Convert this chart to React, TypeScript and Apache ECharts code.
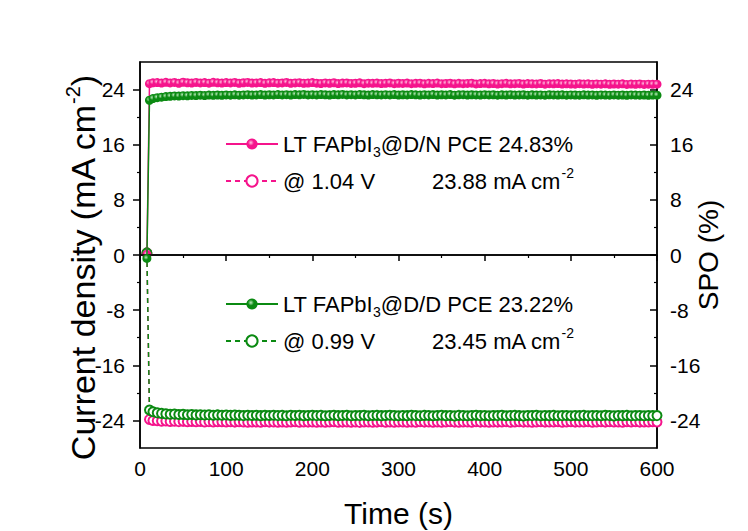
import React, { useEffect, useRef } from "react";
import * as echarts from "echarts";

// sampling times (s)
const times = [
  8, 11, 15, 20, 25, 30, 35, 40, 45, 50, 55, 60, 65, 70, 75, 80, 85, 90, 95, 100,
  105, 110, 115, 120, 125, 130, 135, 140, 145, 150, 155, 160, 165, 170, 175, 180, 185, 190, 195, 200,
  205, 210, 215, 220, 225, 230, 235, 240, 245, 250, 255, 260, 265, 270, 275, 280, 285, 290, 295, 300,
  305, 310, 315, 320, 325, 330, 335, 340, 345, 350, 355, 360, 365, 370, 375, 380, 385, 390, 395, 400,
  405, 410, 415, 420, 425, 430, 435, 440, 445, 450, 455, 460, 465, 470, 475, 480, 485, 490, 495, 500,
  505, 510, 515, 520, 525, 530, 535, 540, 545, 550, 555, 560, 565, 570, 575, 580, 585, 590, 595, 600,
];

// SPO (%) of LT FAPbI3@D/N
const pinkPCE = [
  0.1, 24.85, 24.98, 25.02, 24.95, 25.05, 24.97, 25.03, 24.92, 25.06, 24.99, 24.94, 25.04, 24.96, 25.01, 24.93, 25.05, 24.98, 24.95, 25.02,
  24.96, 25.03, 24.92, 24.99, 25.04, 24.94, 24.97, 25.02, 24.91, 24.98, 25.01, 24.93, 24.96, 25.03, 24.9, 24.97, 25.0, 24.92, 24.95, 25.01,
  24.93, 24.88, 24.97, 24.91, 24.99, 24.87, 24.94, 24.96, 24.89, 24.92, 24.98, 24.86, 24.93, 24.9, 24.95, 24.88, 24.91, 24.96, 24.85, 24.92,
  24.89, 24.94, 24.86, 24.9, 24.93, 24.84, 24.91, 24.87, 24.95, 24.85, 24.88, 24.92, 24.83, 24.9, 24.86, 24.89, 24.93, 24.82, 24.87, 24.9,
  24.84, 24.88, 24.81, 24.86, 24.91, 24.83, 24.85, 24.89, 24.8, 24.87, 24.84, 24.82, 24.88, 24.79, 24.85, 24.83, 24.87, 24.8, 24.84, 24.81,
  24.78, 24.85, 24.8, 24.83, 24.77, 24.82, 24.79, 24.84, 24.76, 24.81, 24.78, 24.83, 24.75, 24.8, 24.77, 24.82, 24.74, 24.79, 24.76, 24.78,
];

// SPO (%) of LT FAPbI3@D/D
const greenPCE = [
  -0.5, 22.45, 22.7, 22.82, 22.9, 22.98, 23.02, 23.08, 23.05, 23.12, 23.1, 23.15, 23.13, 23.18, 23.14, 23.2, 23.16, 23.21, 23.17, 23.22,
  23.18, 23.24, 23.19, 23.22, 23.26, 23.2, 23.23, 23.27, 23.21, 23.25, 23.22, 23.28, 23.23, 23.26, 23.21, 23.27, 23.24, 23.29, 23.22, 23.26,
  23.23, 23.28, 23.25, 23.21, 23.27, 23.24, 23.29, 23.22, 23.26, 23.23, 23.28, 23.25, 23.2, 23.27, 23.24, 23.22, 23.26, 23.23, 23.28, 23.21,
  23.25, 23.22, 23.27, 23.24, 23.2, 23.26, 23.23, 23.28, 23.21, 23.25, 23.22, 23.27, 23.19, 23.24, 23.26, 23.21, 23.25, 23.23, 23.2, 23.26,
  23.22, 23.25, 23.19, 23.24, 23.21, 23.26, 23.2, 23.23, 23.25, 23.18, 23.24, 23.21, 23.23, 23.19, 23.25, 23.22, 23.2, 23.24, 23.18, 23.23,
  23.21, 23.19, 23.24, 23.2, 23.22, 23.17, 23.23, 23.2, 23.18, 23.22, 23.19, 23.21, 23.16, 23.22, 23.2, 23.18, 23.21, 23.17, 23.2, 23.19,
];

// current density (mA cm-2) of LT FAPbI3@D/N at 1.04 V
const pinkJ = [
  0.3, -23.85, -24.0, -24.05, -24.1, -24.08, -24.14, -24.12, -24.17, -24.13, -24.19, -24.15, -24.2, -24.16, -24.21, -24.17, -24.22, -24.18, -24.2, -24.23,
  -24.19, -24.24, -24.2, -24.22, -24.25, -24.21, -24.23, -24.26, -24.2, -24.24, -24.22, -24.27, -24.21, -24.25, -24.23, -24.2, -24.26, -24.22, -24.24, -24.21,
  -24.25, -24.22, -24.27, -24.23, -24.2, -24.26, -24.24, -24.21, -24.25, -24.22, -24.28, -24.23, -24.21, -24.26, -24.24, -24.2, -24.25, -24.22, -24.27, -24.23,
  -24.21, -24.25, -24.22, -24.26, -24.2, -24.24, -24.23, -24.27, -24.21, -24.25, -24.22, -24.19, -24.24, -24.26, -24.21, -24.23, -24.25, -24.2, -24.24, -24.22,
  -24.26, -24.21, -24.24, -24.22, -24.19, -24.25, -24.23, -24.2, -24.24, -24.21, -24.26, -24.22, -24.2, -24.24, -24.21, -24.23, -24.19, -24.25, -24.22, -24.2,
  -24.24, -24.21, -24.23, -24.19, -24.25, -24.22, -24.2, -24.24, -24.18, -24.23, -24.21, -24.25, -24.2, -24.22, -24.19, -24.24, -24.21, -24.23, -24.2, -24.22,
];

// current density (mA cm-2) of LT FAPbI3@D/D at 0.99 V
const greenJ = [
  0.3, -22.5, -22.75, -22.9, -22.98, -23.05, -23.1, -23.08, -23.14, -23.12, -23.18, -23.15, -23.2, -23.17, -23.22, -23.19, -23.24, -23.2, -23.25, -23.22,
  -23.27, -23.23, -23.26, -23.3, -23.24, -23.28, -23.25, -23.31, -23.26, -23.29, -23.24, -23.3, -23.27, -23.32, -23.26, -23.29, -23.25, -23.31, -23.28, -23.26,
  -23.3, -23.27, -23.32, -23.28, -23.25, -23.31, -23.29, -23.26, -23.33, -23.28, -23.3, -23.26, -23.32, -23.29, -23.27, -23.31, -23.28, -23.25, -23.3, -23.33,
  -23.28, -23.31, -23.26, -23.3, -23.33, -23.27, -23.29, -23.32, -23.28, -23.25, -23.31, -23.29, -23.34, -23.27, -23.3, -23.32, -23.28, -23.26, -23.31, -23.29,
  -23.33, -23.28, -23.3, -23.26, -23.32, -23.29, -23.27, -23.31, -23.34, -23.28, -23.3, -23.26, -23.32, -23.29, -23.31, -23.27, -23.33, -23.3, -23.28, -23.32,
  -23.29, -23.31, -23.27, -23.33, -23.3, -23.28, -23.32, -23.26, -23.3, -23.34, -23.29, -23.31, -23.27, -23.32, -23.3, -23.28, -23.33, -23.29, -23.31, -23.3,
];

const majorY = [-24, -16, -8, 0, 8, 16, 24];
const minorY = [-20, -12, -4, 4, 12, 20];

const legendLabels: Record<string, string> = {
  pinkPCE: "{n|LT FAPbI}{sub|3}{n|@D/N PCE 24.83%}",
  pinkJ: "{w|@ 1.04 V}{n|23.88 mA cm}{sup|-2}",
  greenPCE: "{n|LT FAPbI}{sub|3}{n|@D/D PCE 23.22%}",
  greenJ: "{w|@ 0.99 V}{n|23.45 mA cm}{sup|-2}",
};

const PINK = "#F5148C";
const GREEN = "#0B8A12";
const FONT = "Liberation Sans, Arial, sans-serif";

function pairs(vals: number[]) {
  return times.map((t, i) => [t, vals[i]]);
}

function ballColor(base: string, light: string) {
  return {
    type: "radial",
    x: 0.4,
    y: 0.38,
    r: 0.6,
    colorStops: [
      { offset: 0, color: light },
      { offset: 0.45, color: base },
      { offset: 1, color: base },
    ],
  };
}

export default function App() {
  const ref = useRef<HTMLDivElement>(null);
  useEffect(() => {
    if (!ref.current) return;
    const chart = echarts.init(ref.current, null, { renderer: "svg" });
    const legendRich = {
      n: { fontSize: 22, lineHeight: 30, color: "#000", fontFamily: FONT, verticalAlign: "middle" },
      w: { fontSize: 22, lineHeight: 30, color: "#000", fontFamily: FONT, width: 149, verticalAlign: "middle" },
      sub: { fontSize: 14, lineHeight: 30, color: "#000", fontFamily: FONT, verticalAlign: "bottom" },
      sup: { fontSize: 14, lineHeight: 30, color: "#000", fontFamily: FONT, verticalAlign: "top" },
    };
    const nameRich = {
      n: { fontSize: 34, lineHeight: 40, color: "#000", fontFamily: FONT, verticalAlign: "middle" },
      sup: { fontSize: 20, lineHeight: 40, color: "#000", fontFamily: FONT, verticalAlign: "top" },
    };
    const axisLineStyle = { color: "#000", width: 1.5 };
    const labelStyle = { color: "#000", fontSize: 21, fontFamily: FONT };
    const yBase = {
      type: "value",
      min: -28,
      max: 28,
      splitLine: { show: false },
      nameMoveOverlap: false,
    };
    const option: any = {
      animation: false,
      backgroundColor: "#fff",
      grid: {
        left: 140,
        right: 91,
        top: 62,
        bottom: 83,
        show: true,
        borderColor: "#000",
        borderWidth: 1.5,
        backgroundColor: "transparent",
        containLabel: false,
        outerBoundsMode: "none",
      },
      legend: [
        {
          data: ["pinkPCE", "pinkJ"],
          orient: "vertical",
          left: 225,
          top: 133,
          itemWidth: 52,
          itemHeight: 14,
          itemGap: 7,
          padding: 0,
          formatter: (name: string) => legendLabels[name],
          textStyle: { rich: legendRich },
          selectedMode: false,
        },
        {
          data: ["greenPCE", "greenJ"],
          orient: "vertical",
          left: 225,
          top: 293,
          itemWidth: 52,
          itemHeight: 14,
          itemGap: 7,
          padding: 0,
          formatter: (name: string) => legendLabels[name],
          textStyle: { rich: legendRich },
          selectedMode: false,
        },
      ],
      xAxis: {
        type: "value",
        min: 0,
        max: 600,
        interval: 100,
        name: "Time (s)",
        nameLocation: "middle",
        nameGap: 48,
        nameMoveOverlap: false,
        nameTextStyle: { fontSize: 30, lineHeight: 34, color: "#000", fontFamily: FONT },
        axisLine: { lineStyle: axisLineStyle },
        axisTick: { length: 6, lineStyle: axisLineStyle },
        minorTick: { show: true, splitNumber: 2, length: 3, lineStyle: { color: "#000", width: 1.2 } },
        axisLabel: { ...labelStyle, margin: 10 },
        splitLine: { show: false },
      },
      yAxis: [
        {
          ...yBase,
          position: "left",
          name: "{n|Current density (mA cm}{sup|-2}{n|)}",
          nameLocation: "middle",
          nameRotate: 90,
          nameGap: 37,
          nameTextStyle: { rich: nameRich, padding: [0, 26, 0, 0] },
          axisLine: { show: true, lineStyle: axisLineStyle },
          axisTick: { show: true, length: 7, customValues: majorY, lineStyle: axisLineStyle },
          axisLabel: { ...labelStyle, margin: 15, customValues: majorY },
        },
        {
          ...yBase,
          position: "right",
          name: "SPO (%)",
          nameLocation: "middle",
          nameRotate: 90,
          nameGap: 34,
          nameTextStyle: { fontSize: 28, lineHeight: 34, color: "#000", fontFamily: FONT },
          axisLine: { show: true, lineStyle: axisLineStyle },
          axisTick: { show: true, inside: true, length: 7, customValues: majorY, lineStyle: axisLineStyle },
          axisLabel: { ...labelStyle, margin: 13, customValues: majorY },
        },
        {
          ...yBase,
          position: "left",
          axisLine: { show: false },
          axisTick: { show: true, length: 3, customValues: minorY, lineStyle: { color: "#000", width: 1.2 } },
          axisLabel: { show: false },
        },
        {
          ...yBase,
          position: "right",
          axisLine: { show: false },
          axisTick: { show: true, inside: true, length: 3, customValues: minorY, lineStyle: { color: "#000", width: 1.2 } },
          axisLabel: { show: false },
        },
      ],
      series: [
        {
          name: "pinkJ",
          type: "line",
          yAxisIndex: 0,
          data: pairs(pinkJ),
          symbol: "emptyCircle",
          symbolSize: 9,
          showAllSymbol: true,
          itemStyle: { color: PINK, borderColor: PINK, borderWidth: 1.2 },
          lineStyle: { color: PINK, width: 1.5, type: [5, 4] },
          markLine: {
            silent: true,
            symbol: "none",
            label: { show: false },
            lineStyle: { color: "#000", width: 1.5, type: "solid" },
            data: [{ yAxis: 0 }],
          },
          z: 2,
        },
        {
          name: "greenJ",
          type: "line",
          yAxisIndex: 0,
          data: pairs(greenJ),
          symbol: "emptyCircle",
          symbolSize: 9,
          showAllSymbol: true,
          itemStyle: { color: GREEN, borderColor: GREEN, borderWidth: 1.2 },
          lineStyle: { color: GREEN, width: 1.5, type: [5, 4] },
          z: 3,
        },
        {
          name: "pinkPCE",
          type: "line",
          yAxisIndex: 1,
          data: pairs(pinkPCE),
          symbol: "circle",
          symbolSize: 9,
          showAllSymbol: true,
          itemStyle: { color: ballColor(PINK, "#FFC2E0") },
          lineStyle: { color: PINK, width: 1.5 },
          z: 4,
        },
        {
          name: "greenPCE",
          type: "line",
          yAxisIndex: 1,
          data: pairs(greenPCE),
          symbol: "circle",
          symbolSize: 9,
          showAllSymbol: true,
          itemStyle: { color: ballColor(GREEN, "#BDEBBD") },
          lineStyle: { color: GREEN, width: 1.5 },
          z: 5,
        },
      ],
    };
    chart.setOption(option);
    return () => chart.dispose();
  }, []);
  return (
    <div
      ref={ref}
      style={{ position: "fixed", left: 0, top: 0, width: 748, height: 531, background: "#fff" }}
    />
  );
}
